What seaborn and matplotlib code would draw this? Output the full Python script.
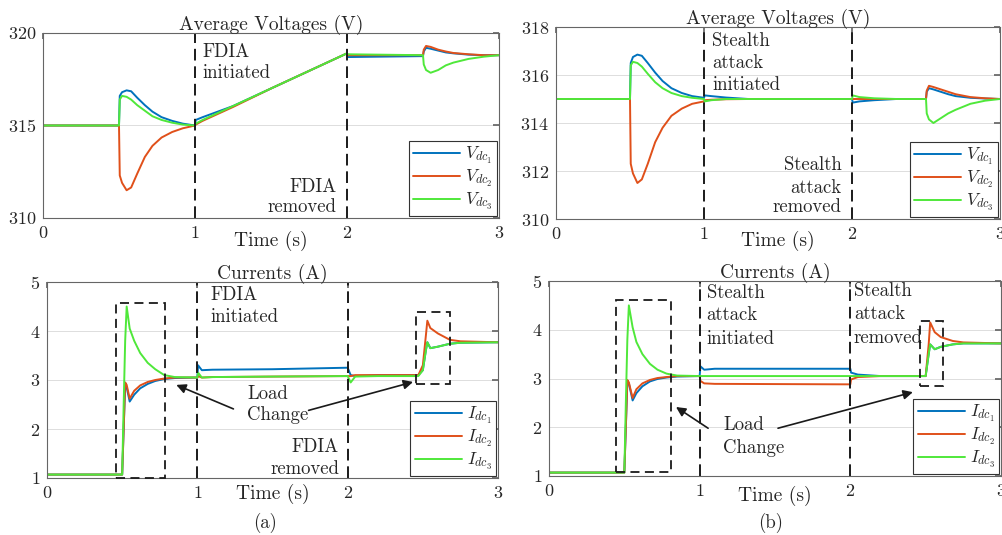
import numpy as np
import pandas as pd
import seaborn as sns
import matplotlib.pyplot as plt
from matplotlib.patches import Rectangle

# ---- data ----
# (a) FDIA, voltages
ta_v = [0, 0.5, 0.505, 0.52, 0.55, 0.58, 0.62, 0.67, 0.72, 0.78, 0.85, 0.92, 1.0, 1.005, 1.05,
        1.25, 1.5, 1.75, 2.0, 2.005, 2.5, 2.505, 2.52, 2.55, 2.6, 2.65, 2.7, 2.8, 2.9, 3.0]
va_v1 = [315, 315, 316.6, 316.8, 316.9, 316.85, 316.5, 316.1, 315.75, 315.45, 315.25, 315.1, 315.0, 315.3, 315.45,
         316.05, 317.0, 317.95, 318.9, 318.7, 318.75, 319.0, 319.2, 319.15, 319.05, 318.95, 318.9, 318.83, 318.8, 318.8]
va_v2 = [315, 315, 312.3, 311.9, 311.5, 311.65, 312.4, 313.3, 313.9, 314.35, 314.65, 314.85, 315.0, 315.05, 315.25,
         316.0, 317.0, 317.95, 318.9, 318.8, 318.8, 319.1, 319.3, 319.25, 319.1, 319.0, 318.92, 318.85, 318.8, 318.8]
va_v3 = [315, 315, 316.4, 316.6, 316.55, 316.4, 316.1, 315.8, 315.5, 315.3, 315.15, 315.05, 315.0, 315.1, 315.3,
         316.05, 317.0, 317.95, 318.9, 318.85, 318.8, 318.3, 318.0, 317.85, 318.0, 318.25, 318.4, 318.6, 318.72, 318.8]

# (b) stealth attack, voltages
tb_v = [0, 0.5, 0.505, 0.52, 0.55, 0.58, 0.62, 0.67, 0.72, 0.78, 0.85, 0.92, 1.0, 1.005, 1.05, 1.15, 1.3,
        2.0, 2.005, 2.05, 2.15, 2.3, 2.5, 2.505, 2.52, 2.55, 2.6, 2.65, 2.7, 2.8, 2.9, 3.0]
vb_v1 = [315, 315, 316.5, 316.75, 316.85, 316.8, 316.5, 316.1, 315.75, 315.45, 315.25, 315.12, 315.05, 315.15, 315.12, 315.06, 315.0,
         315.0, 314.85, 314.9, 314.95, 315.0, 315.0, 315.3, 315.45, 315.4, 315.3, 315.2, 315.12, 315.05, 315.02, 315.0]
vb_v2 = [315, 315, 312.3, 311.9, 311.5, 311.65, 312.3, 313.2, 313.8, 314.3, 314.6, 314.8, 314.9, 314.95, 314.97, 314.99, 315.0,
         315.0, 315.0, 315.0, 315.0, 315.0, 315.0, 315.35, 315.55, 315.5, 315.4, 315.3, 315.2, 315.08, 315.03, 315.0]
vb_v3 = [315, 315, 316.4, 316.55, 316.5, 316.35, 316.05, 315.7, 315.45, 315.25, 315.12, 315.05, 315.0, 314.9, 314.95, 315.0, 315.0,
         315.0, 315.15, 315.08, 315.03, 315.0, 315.0, 314.4, 314.15, 314.0, 314.2, 314.4, 314.55, 314.8, 314.93, 315.0]

# (a) FDIA, currents
ta_i = [0, 0.5, 0.51, 0.52, 0.53, 0.55, 0.58, 0.62, 0.67, 0.72, 0.78, 0.85, 1.0, 1.005, 1.03, 1.1, 1.5,
        1.99, 2.0, 2.02, 2.05, 2.2, 2.47, 2.5, 2.52, 2.53, 2.55, 2.6, 2.68, 2.75, 3.0]
ia_i1 = [1.07, 1.07, 2.0, 2.9, 2.85, 2.56, 2.7, 2.83, 2.92, 2.98, 3.02, 3.04, 3.05, 3.3, 3.2, 3.21, 3.22,
         3.25, 3.25, 3.1, 3.08, 3.1, 3.1, 3.2, 3.6, 3.77, 3.65, 3.68, 3.74, 3.76, 3.77]
ia_i2 = [1.07, 1.07, 2.0, 2.95, 2.9, 2.62, 2.78, 2.89, 2.96, 3.0, 3.03, 3.05, 3.05, 3.08, 3.05, 3.06, 3.07,
         3.08, 3.08, 3.08, 3.1, 3.1, 3.1, 3.3, 3.9, 4.21, 4.06, 3.95, 3.82, 3.79, 3.77]
ia_i3 = [1.07, 1.07, 2.5, 3.8, 4.5, 4.05, 3.8, 3.55, 3.35, 3.22, 3.1, 3.06, 3.05, 3.15, 3.05, 3.06, 3.07,
         3.08, 3.08, 2.95, 3.07, 3.08, 3.08, 3.2, 3.6, 3.77, 3.65, 3.68, 3.74, 3.76, 3.77]

# (b) stealth attack, currents
tb_i = [0, 0.5, 0.51, 0.52, 0.53, 0.555, 0.58, 0.62, 0.67, 0.72, 0.78, 0.85, 1.0, 1.005, 1.03, 1.1,
        2.0, 2.005, 2.05, 2.2, 2.5, 2.52, 2.53, 2.56, 2.6, 2.68, 2.75, 3.0]
ib_i1 = [1.07, 1.07, 2.0, 2.95, 2.9, 2.55, 2.7, 2.84, 2.94, 2.99, 3.02, 3.04, 3.05, 3.25, 3.18, 3.2,
         3.2, 3.12, 3.08, 3.05, 3.05, 3.5, 3.7, 3.6, 3.65, 3.7, 3.72, 3.72]
ib_i2 = [1.07, 1.07, 2.0, 2.97, 2.92, 2.6, 2.78, 2.9, 2.97, 3.01, 3.03, 3.05, 3.05, 2.95, 2.9, 2.89,
         2.88, 2.98, 3.03, 3.05, 3.05, 3.7, 4.15, 3.95, 3.85, 3.77, 3.74, 3.72]
ib_i3 = [1.07, 1.07, 2.5, 3.8, 4.5, 4.05, 3.75, 3.5, 3.3, 3.18, 3.1, 3.06, 3.05, 3.05, 3.05, 3.05,
         3.05, 3.05, 3.05, 3.05, 3.05, 3.5, 3.7, 3.6, 3.65, 3.7, 3.72, 3.72]

v_names = [r"$V_{dc_1}$", r"$V_{dc_2}$", r"$V_{dc_3}$"]
i_names = [r"$I_{dc_1}$", r"$I_{dc_2}$", r"$I_{dc_3}$"]
colors = ["#0072BD", "#E0501A", "#4FE83A"]

sns.set_theme(style="white")
plt.rcParams["font.family"] = "serif"
plt.rcParams["font.serif"] = ["cmr10", "DejaVu Serif"]
plt.rcParams["mathtext.fontset"] = "cm"
plt.rcParams["axes.unicode_minus"] = False
plt.rcParams["axes.formatter.use_mathtext"] = True

fig = plt.figure(figsize=(10.03, 5.35), dpi=100)
W, H = 1003, 535


def make_ax(l, r, t, b):
    return fig.add_axes([l / W, 1 - b / H, (r - l) / W, (b - t) / H])


def long_df(t, series, names):
    return pd.concat([pd.DataFrame({"t": t, "v": s, "name": n}) for s, n in zip(series, names)])


def draw(ax, t, series, names, ylim, yticks, title, label_y):
    df = long_df(t, series, names)
    sns.lineplot(data=df, x="t", y="v", hue="name", hue_order=names, palette=colors,
                 estimator=None, sort=False, lw=1.4, ax=ax)
    ax.set_xlim(0, 3)
    ax.set_ylim(*ylim)
    ax.set_xticks([0, 1, 2, 3])
    ax.set_yticks(yticks)
    ax.grid(axis="y", color="#dddddd", lw=0.7)
    ax.set_axisbelow(True)
    ax.tick_params(direction="in", length=4, labelsize=13, pad=5, top=True, right=True,
                   color="#666666")
    for s in ax.spines.values():
        s.set_color("#666666")
        s.set_linewidth(0.8)
    ax.set_title(title, fontsize=14, pad=2)
    ax.set_ylabel("")
    ax.set_xlabel("Time (s)", fontsize=14, va="top")
    ax.xaxis.set_label_coords(0.5, label_y)
    ax.axvline(1, color="k", ls=(0, (6, 3)), lw=1.4)
    ax.axvline(2, color="k", ls=(0, (6, 3)), lw=1.4)
    leg = ax.legend(loc="lower right", bbox_to_anchor=(1, 0), borderaxespad=0.1, fontsize=12.5,
                    handlelength=2.7, handletextpad=0.3, labelspacing=0.1, borderpad=0.25,
                    fancybox=False, framealpha=1, edgecolor="#333333")
    leg.get_frame().set_linewidth(0.8)


def box(ax, x0, x1, y0, y1):
    ax.add_patch(Rectangle((x0, y0), x1 - x0, y1 - y0, fill=False, ec="k", lw=1.3,
                           ls=(0, (5, 3)), clip_on=False, zorder=5))


def arrow(ax, head, tail):
    ax.annotate("", xy=head, xytext=tail,
                arrowprops=dict(arrowstyle="-|>", color="k", lw=1.2, mutation_scale=14,
                                shrinkA=0, shrinkB=0))


fs = 13.5

# top-left
ax = make_ax(43, 499, 33, 218)
draw(ax, ta_v, [va_v1, va_v2, va_v3], v_names, (310, 320), [310, 315, 320],
     "Average Voltages (V)", -0.072)
ax.text(1.05, 318.97, "FDIA", fontsize=fs, va="center")
ax.text(1.05, 317.84, "initiated", fontsize=fs, va="center")
ax.text(1.934, 311.65, "FDIA", fontsize=fs, va="center", ha="right")
ax.text(1.934, 310.57, "removed", fontsize=fs, va="center", ha="right")

# top-right
ax = make_ax(556, 1000, 27, 219)
draw(ax, tb_v, [vb_v1, vb_v2, vb_v3], v_names, (310, 318), [310, 312, 314, 316, 318],
     "Average Voltages (V)", -0.064)
for txt, y in zip(["Stealth", "attack", "initiated"], [317.42, 316.5, 315.58]):
    ax.text(1.054, y, txt, fontsize=fs, va="center")
for txt, y in zip(["Stealth", "attack", "removed"], [312.25, 311.29, 310.48]):
    ax.text(1.93, y, txt, fontsize=fs, va="center", ha="right")

# bottom-left
ax = make_ax(47, 498, 282, 478)
draw(ax, ta_i, [ia_i1, ia_i2, ia_i3], i_names, (1, 5), [1, 2, 3, 4, 5],
     "Currents (A)", -0.032)
box(ax, 0.46, 0.785, 1.0, 4.58)
box(ax, 2.455, 2.68, 2.92, 4.38)
ax.text(1.085, 4.73, "FDIA", fontsize=fs, va="center")
ax.text(1.085, 4.29, "initiated", fontsize=fs, va="center")
ax.text(1.33, 2.61, "Load", fontsize=fs, va="baseline")
ax.text(1.33, 2.18, "Change", fontsize=fs, va="baseline")
ax.text(1.943, 1.64, "FDIA", fontsize=fs, va="center", ha="right")
ax.text(1.943, 1.19, "removed", fontsize=fs, va="center", ha="right")
arrow(ax, (0.86, 2.90), (1.24, 2.41))
arrow(ax, (2.435, 2.96), (1.74, 2.38))

# bottom-right
ax = make_ax(549, 1001, 281, 476)
draw(ax, tb_i, [ib_i1, ib_i2, ib_i3], i_names, (1, 5), [1, 2, 3, 4, 5],
     "Currents (A)", -0.052)
box(ax, 0.445, 0.807, 1.08, 4.61)
box(ax, 2.46, 2.617, 2.85, 4.17)
for txt, y in zip(["Stealth", "attack", "initiated"], [4.76, 4.30, 3.80]):
    ax.text(1.046, y, txt, fontsize=fs, va="center")
for txt, y in zip(["Stealth", "attack", "removed"], [4.80, 4.33, 3.84]):
    ax.text(2.024, y, txt, fontsize=fs, va="center")
ax.text(1.157, 1.94, "Load", fontsize=fs, va="baseline")
ax.text(1.157, 1.48, "Change", fontsize=fs, va="baseline")
arrow(ax, (0.843, 2.415), (1.056, 1.98))
arrow(ax, (2.415, 2.72), (1.52, 1.98))

fig.text(265 / W, 1 - 523 / H, "(a)", fontsize=fs, ha="center", va="center")
fig.text(771 / W, 1 - 523 / H, "(b)", fontsize=fs, ha="center", va="center")

fig.savefig("out.png", dpi=100)
